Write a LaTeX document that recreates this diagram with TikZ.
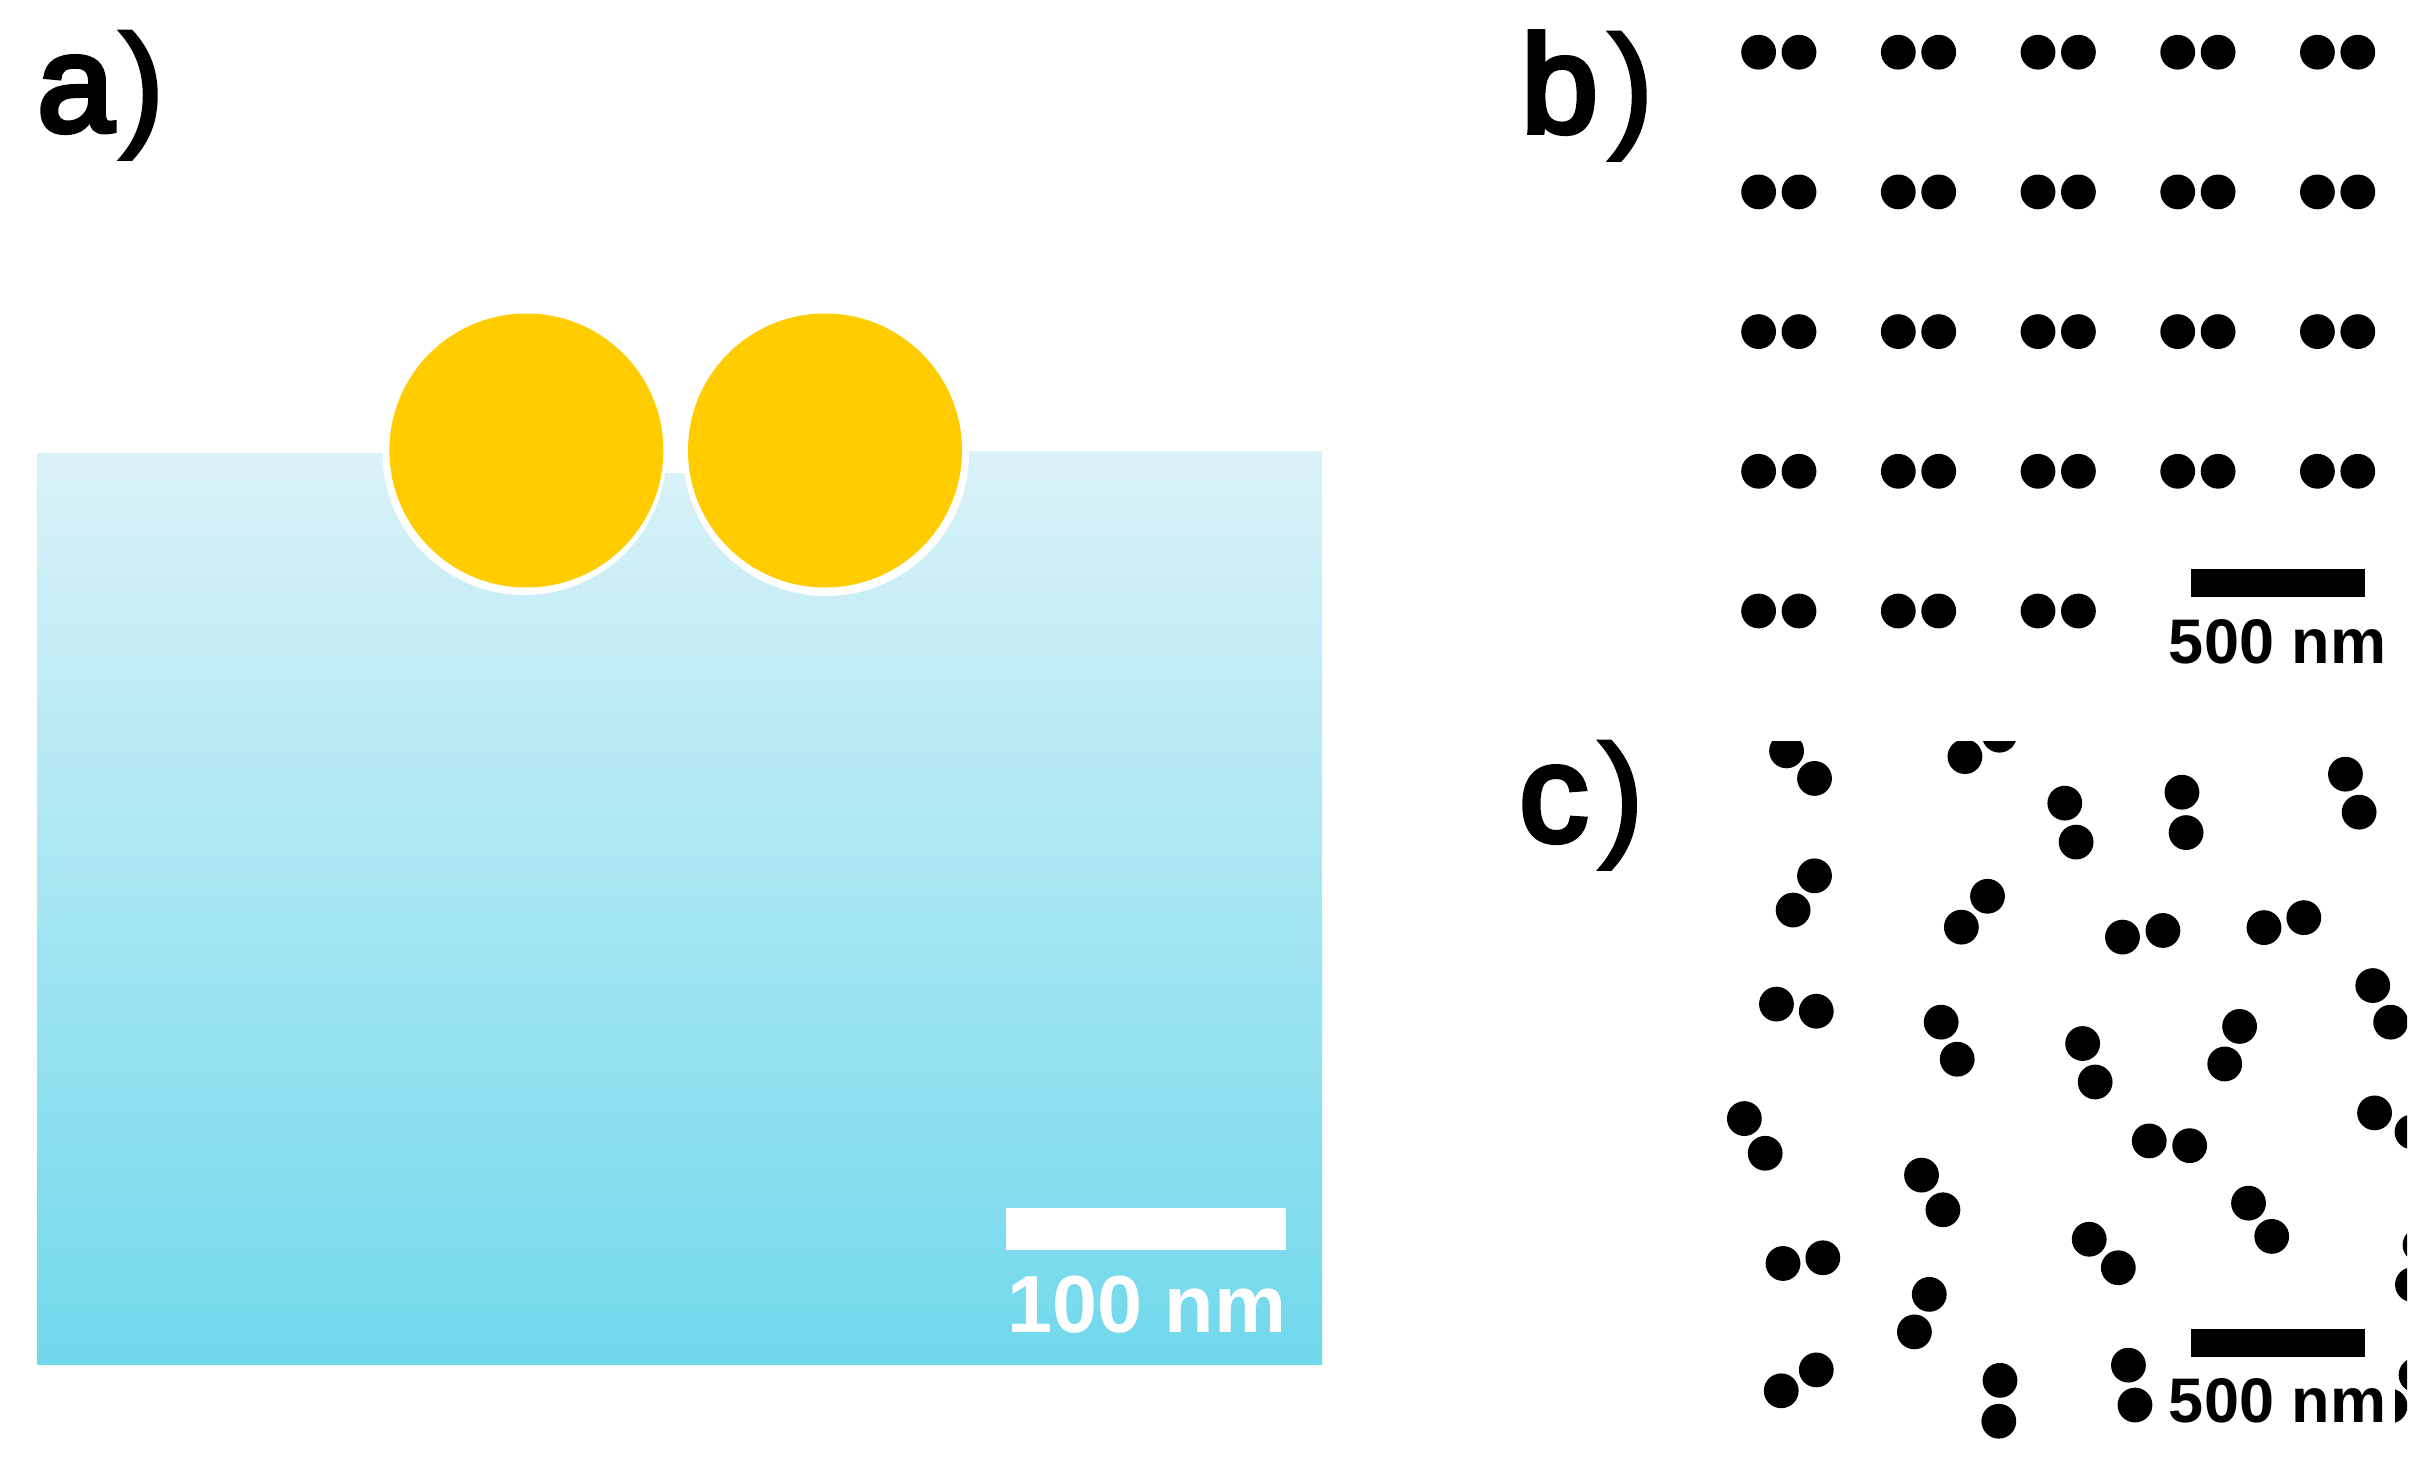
\documentclass[tikz,border=0pt]{standalone}
\usepackage{fontspec}
\setmainfont{Liberation Sans}
\newfontfamily\letterfont[FakeBold=4]{Liberation Sans}
\newfontfamily\parenfont[FakeBold=2]{Liberation Sans}
\definecolor{bluetop}{HTML}{DAF2F8}
\definecolor{bluebot}{HTML}{70D8EC}
\definecolor{gold}{HTML}{FFCC00}
\tikzset{
  particle/.style={fill=black},
  goldball/.style={fill=gold},
  rim/.style={fill=white},
  bigletter/.style={inner sep=0pt,anchor=base west,font=\fontsize{138}{150}\selectfont},
  barlabel/.style={inner sep=0pt,anchor=base,font=\fontsize{63}{70}\selectfont\bfseries},
}
\begin{document}
\begin{tikzpicture}[x=1pt,y=-1pt]
\useasboundingbox (0,0) rectangle (2432,1465);
\fill[white] (0,0) rectangle (2432,1465);
% panel a
\shade[top color=bluetop,bottom color=bluebot] (37,453) rectangle (1322,1364);
\fill[bluetop] (960,451) rectangle (1322,453.5);
\fill[rim] (524.5,453) circle[radius=142];
\fill[rim] (826,453) circle[radius=143];
\fill[rim] (660,440) rectangle (690,473);
\fill[goldball] (526.4,450.5) circle[radius=137];
\fill[goldball] (825,450.5) circle[radius=137];
\fill[white] (1006,1208) rectangle (1286,1250);
\node[inner sep=0pt,anchor=base,text=white,font=\fontsize{81}{90}\selectfont\bfseries] (lab100) at (1147,1332) {100 nm};
\node[bigletter] (laba) at (37,131) {{\letterfont a}\kern5pt{\parenfont)}};
% panel b
\node[bigletter] (labb) at (1521,132) {{\letterfont b}\kern10pt{\parenfont)}};
\foreach \row in {0,...,4}
  \foreach \col in {0,...,4}{
    \ifnum\numexpr\row*10+\col\relax<43
      \fill[particle] ({1758.6+139.7*\col},{52.2+139.7*\row}) circle[radius=17.4];
      \fill[particle] ({1799+139.7*\col},{52.2+139.7*\row}) circle[radius=17.4];
    \fi
  }
\fill[black] (2191,569) rectangle (2365,597);
\node[barlabel] (lab500b) at (2277.5,663) {500 nm};
% panel c
\node[bigletter] (labc) at (1519,841) {{\letterfont c}\kern10pt{\parenfont)}};
\begin{scope}
\clip (1600,741) rectangle (2407,1465);
\foreach \a/\b in {
  482/65,529/123,782/77,840/32,950/175,969/257,1147/152,1154/237,1422/114,1445/194,
  529/328,493/400,820/371,776/436,1047/457,1115/443,1285/437,1352/416,
  465/598,532/613,742/636,769/714,980/681,1001/762,1244/645,1219/724,1468/559,1498/636,
  411/839,446/912,1092/886,1160/896,1471/827,1534/867,
  709/958,745/1031,1259/1017,1298/1087,991/1093,1040/1153,
  476/1144,543/1132,722/1209,697/1288,473/1412,532/1368,841/1390,839/1476,1057/1358,1068/1442}
  \fill[particle] ({1500+\a/1.682},{720+\b/2.105}) circle[radius=17.4];
\fill[particle] (2412.4,1284.6) circle[radius=17.4];
\fill[particle] (2420,1245) circle[radius=17.4];
\fill[particle] (2416,1375) circle[radius=17.4];
\end{scope}
\begin{scope}
\clip (2395,1388) rectangle (2407,1424);
\fill[particle] (2390,1406) circle[radius=17.4];
\end{scope}
\fill[black] (2191,1329) rectangle (2365,1357);
\node[barlabel] (lab500c) at (2277.5,1422) {500 nm};
\end{tikzpicture}
\end{document}
